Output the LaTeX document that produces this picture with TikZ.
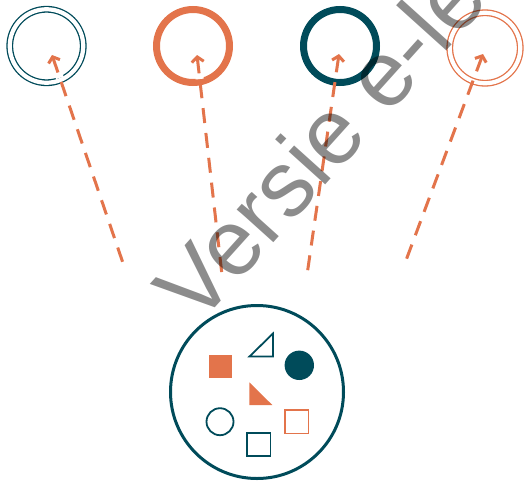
\documentclass[tikz,border=0pt]{standalone}
\usepackage{fontspec}
\newfontfamily\wmfont{Liberation Sans}
\usetikzlibrary{arrows.meta}
\definecolor{teal}{RGB}{0,75,90}
\definecolor{orng}{RGB}{227,116,75}
\begin{document}
\begin{tikzpicture}[x=1pt,y=-1pt,
  thickring/.style={circle, draw=#1, line width=7pt, minimum size=73pt, inner sep=0pt},
  dblring/.style={circle, draw=#1, double, double distance=4.2pt, line width=1.3pt, minimum size=73.5pt, inner sep=0pt},
  link/.style={draw=orng, line width=3pt, dash pattern=on 15pt off 10pt,
    {Straight Barb[length=5pt,width=12pt]}-,
    preaction={draw=white, line width=8pt, dash pattern=on 15pt off 10pt}},
  outl/.style={line width=1.8pt}
]
\useasboundingbox (0,0) rectangle (524,482);
% top circles
\node[dblring=teal] (c1) at (46.5,46) {};
\node[thickring=orng] (c2) at (193,46) {};
\node[thickring=teal] (c3) at (340,46) {};
\node[dblring=orng, minimum size=70.5pt] (c4) at (485,48) {};
% connectors
\coordinate (t1) at (52,55);   \coordinate (s1) at (124,266);
\coordinate (t2) at (197,55);  \coordinate (s2) at (222,275);
\coordinate (t3) at (339,54);  \coordinate (s3) at (307,275);
\coordinate (t4) at (483,54);  \coordinate (s4) at (405,263);
\draw[link] (t1) -- (s1);
\draw[link] (t2) -- (s2);
\draw[link] (t3) -- (s3);
\draw[link] (t4) -- (s4);
% bottom circle
\node[circle, draw=teal, line width=3pt, minimum size=173pt, inner sep=0pt] (bag) at (257,392) {};
\fill[orng] (208.5,354.5) rectangle (231.5,377.5);
\draw[teal, outl, line join=miter] (249.5,356.5) -- (273,356.5) -- (273,333.5) -- cycle;
\fill[teal] (299.3,365.3) circle (14.7);
\fill[orng] (249.3,382.3) -- (249.3,405) -- (272.3,405) -- cycle;
\draw[teal, outl] (220,421.7) circle (13.5);
\draw[orng, outl] (284.8,409.8) rectangle (308.5,433.5);
\draw[teal, outl] (247.2,432.8) rectangle (270.5,456.2);
% watermark
\begin{scope}
\clip (0,0) rectangle (524,482);
\node[anchor=base west, rotate=48, inner sep=0pt, text=black, text opacity=0.45,
  font=\wmfont\fontsize{93}{93}\selectfont] (wm) at (197,328) {Versie e-learning};
\end{scope}
\end{tikzpicture}
\end{document}
